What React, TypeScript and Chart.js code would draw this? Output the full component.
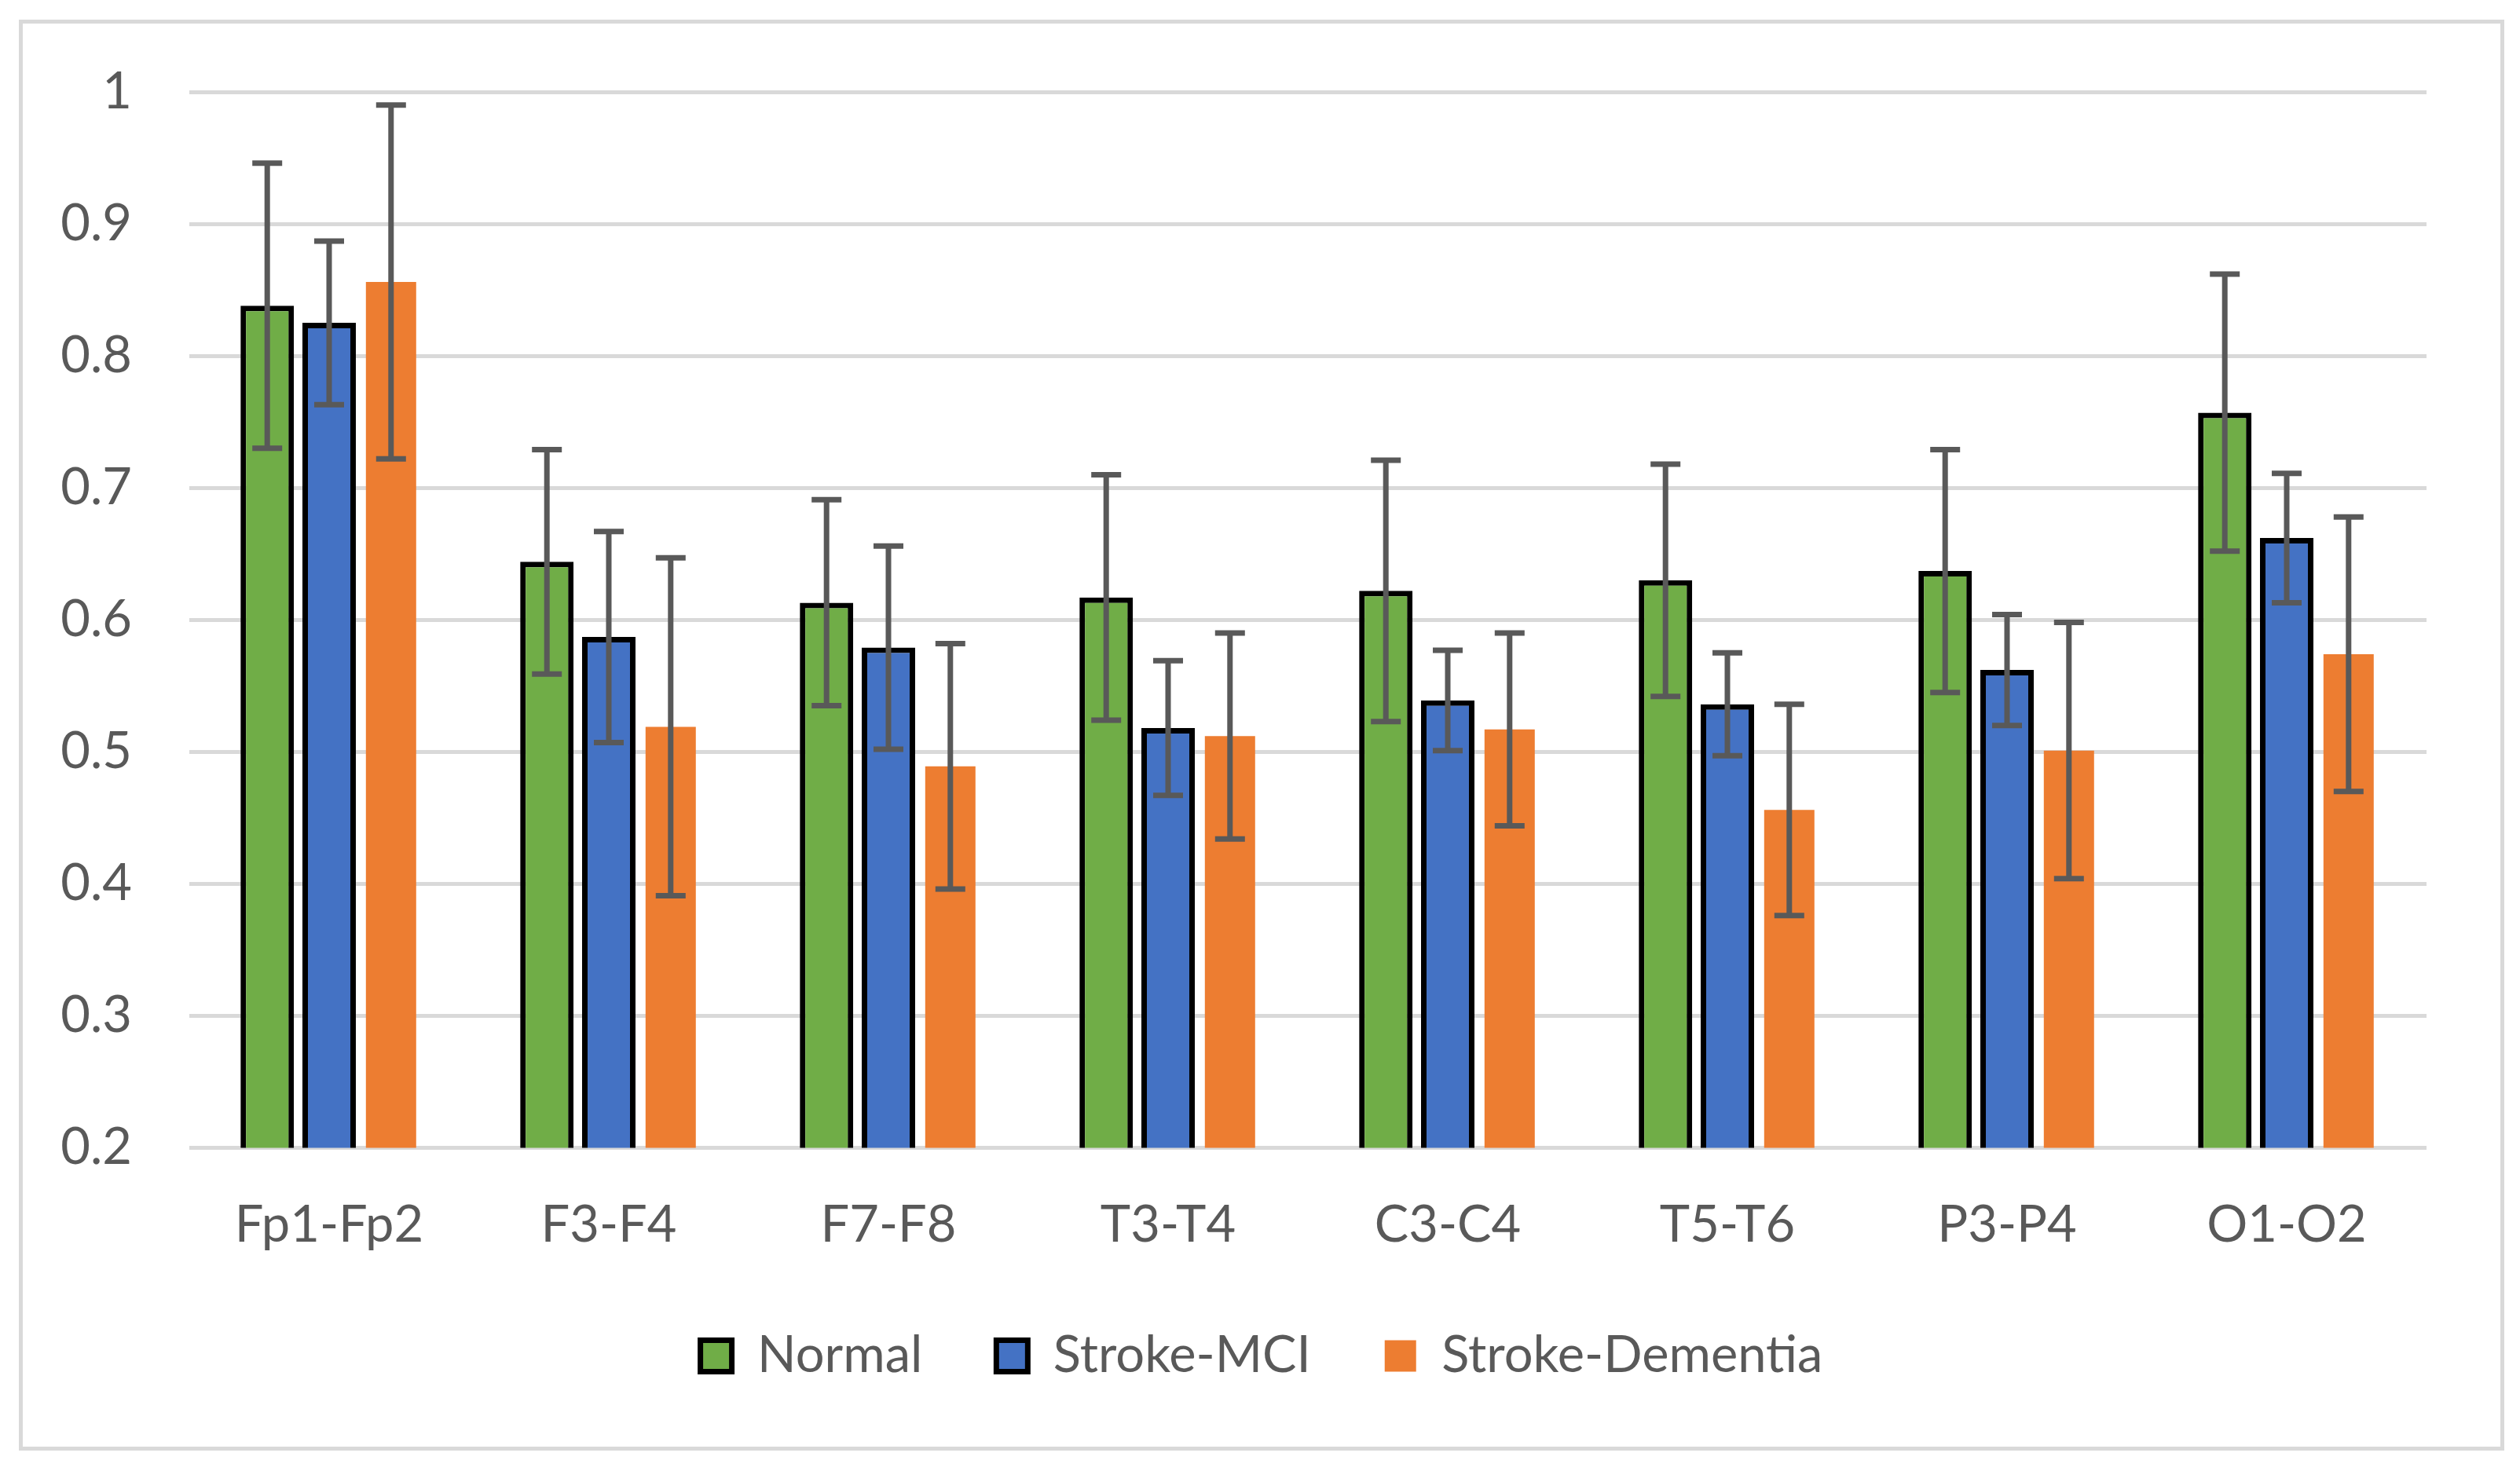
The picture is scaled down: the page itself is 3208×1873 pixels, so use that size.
import React, { useEffect, useRef } from "react";
import { Chart, registerables } from "chart.js";

Chart.register(...registerables);

const categories = ["Fp1-Fp2", "F3-F4", "F7-F8", "T3-T4", "C3-C4", "T5-T6", "P3-P4", "O1-O2"];
const seriesNames = ["Normal", "Stroke-MCI", "Stroke-Dementia"];

const normalMean = [0.838, 0.644, 0.613, 0.617, 0.622, 0.630, 0.637, 0.757];
const normalSd = [0.108, 0.085, 0.078, 0.093, 0.099, 0.088, 0.092, 0.105];

const mciMean = [0.825, 0.587, 0.579, 0.518, 0.539, 0.536, 0.562, 0.662];
const mciSd = [0.062, 0.080, 0.077, 0.051, 0.038, 0.039, 0.042, 0.049];

const dementiaMean = [0.856, 0.519, 0.489, 0.512, 0.517, 0.456, 0.501, 0.574];
const dementiaSd = [0.134, 0.128, 0.093, 0.078, 0.073, 0.080, 0.097, 0.104];

const yMin = 0.2;
const yMax = 1;
const yStep = 0.1;

const TEXT = "#595959";
const GRID = "#d9d9d9";
const FONT = "Lato";

const errorBarPlugin = {
  id: "errorBars",
  afterDatasetsDraw(chart: any) {
    const ctx = chart.ctx;
    const yScale = chart.scales.y;
    chart.data.datasets.forEach((ds: any, di: number) => {
      const meta = chart.getDatasetMeta(di);
      if (meta.hidden) return;
      meta.data.forEach((bar: any, i: number) => {
        const v = ds.data[i];
        const e = ds.errors[i];
        const yTop = yScale.getPixelForValue(v + e);
        const yBot = yScale.getPixelForValue(v - e);
        const half = 19;
        ctx.save();
        ctx.strokeStyle = TEXT;
        ctx.lineWidth = 7;
        ctx.lineCap = "butt";
        ctx.beginPath();
        ctx.moveTo(bar.x, yTop);
        ctx.lineTo(bar.x, yBot);
        ctx.moveTo(bar.x - half, yTop);
        ctx.lineTo(bar.x + half, yTop);
        ctx.moveTo(bar.x - half, yBot);
        ctx.lineTo(bar.x + half, yBot);
        ctx.stroke();
        ctx.restore();
      });
    });
  },
};

export default function App() {
  const canvasRef = useRef<HTMLCanvasElement | null>(null);

  useEffect(() => {
    if (!canvasRef.current) return;
    const chart = new Chart(canvasRef.current, {
      type: "bar",
      data: {
        labels: categories,
        datasets: [
          {
            label: seriesNames[0],
            data: normalMean,
            errors: normalSd,
            backgroundColor: "#70ad47",
            borderColor: "#000000",
            borderWidth: 7,
            barPercentage: 0.863,
            categoryPercentage: 0.664,
          } as any,
          {
            label: seriesNames[1],
            data: mciMean,
            errors: mciSd,
            backgroundColor: "#4472c4",
            borderColor: "#000000",
            borderWidth: 7,
            barPercentage: 0.863,
            categoryPercentage: 0.664,
          } as any,
          {
            label: seriesNames[2],
            data: dementiaMean,
            errors: dementiaSd,
            backgroundColor: "#ed7d31",
            borderColor: "#ed7d31",
            borderWidth: 0,
            barPercentage: 0.812,
            categoryPercentage: 0.664,
          } as any,
        ],
      },
      options: {
        animation: false,
        responsive: true,
        maintainAspectRatio: false,
        layout: { padding: { top: 87, right: 0, left: 0, bottom: 73 } },
        plugins: {
          legend: {
            display: true,
            position: "bottom",
            labels: {
              boxWidth: 40,
              boxHeight: 40,
              padding: 94,
              color: TEXT,
              font: { family: FONT, size: 65 },
            },
          },
          tooltip: { enabled: false },
          title: { display: false },
        },
        scales: {
          x: {
            grid: { display: false, drawTicks: false },
            border: { display: false },
            ticks: {
              color: TEXT,
              font: { family: FONT, size: 65 },
              padding: 60,
              maxRotation: 0,
            },
            afterFit: (s: any) => {
              s.height = 138.5;
            },
          },
          y: {
            min: yMin,
            max: yMax,
            grid: { color: GRID, lineWidth: 5, drawTicks: false },
            border: { display: false },
            ticks: {
              stepSize: yStep,
              color: TEXT,
              font: { family: FONT, size: 65 },
              padding: 73,
              callback: (v: any) => String(Number(Number(v).toFixed(1))),
            },
            afterFit: (s: any) => {
              s.width = 212;
              s.paddingTop = 0;
              s.paddingBottom = 0;
            },
          },
          y2: {
            position: "right",
            display: true,
            grid: { display: false, drawTicks: false },
            border: { display: false },
            ticks: { display: false },
            afterFit: (s: any) => {
              s.width = 94;
              s.paddingTop = 0;
              s.paddingBottom = 0;
            },
          },
        },
      } as any,
      plugins: [errorBarPlugin],
    });
    return () => chart.destroy();
  }, []);

  return (
    <div
      style={{
        position: "absolute",
        left: 24,
        top: 25,
        width: 3164,
        height: 1822,
        border: `5px solid ${GRID}`,
        boxSizing: "border-box",
        background: "#ffffff",
      }}
    >
      <div style={{ position: "relative", width: 3154, height: 1812 }}>
        <canvas ref={canvasRef} />
      </div>
    </div>
  );
}
